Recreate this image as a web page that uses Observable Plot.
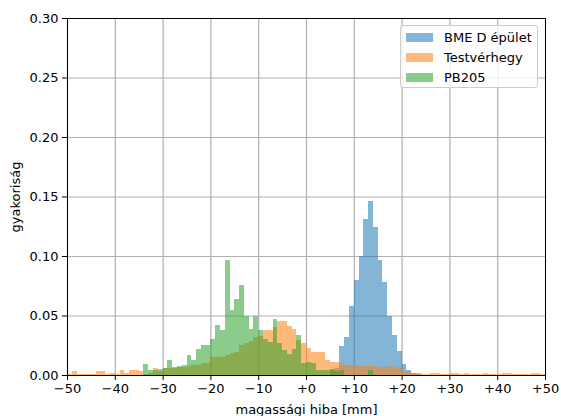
<!DOCTYPE html>
<html>
<head>
<meta charset="utf-8">
<script src="https://cdn.jsdelivr.net/npm/d3@7"></script>
<script src="https://cdn.jsdelivr.net/npm/@observablehq/plot@0.6"></script>
<style>
  body { margin: 0; background: #fff; }
  #wrap { position: relative; width: 561px; height: 416px; font-family: "DejaVu Sans", sans-serif; }
  .legend { position: absolute; left: 400px; top: 25px; width: 138px; height: 63px;
    background: rgba(255,255,255,0.8); border: 1px solid #cccccc; border-radius: 3px; box-sizing: border-box; }
  .row { position: absolute; left: 5px; height: 14px; display: flex; align-items: center; font-size: 13px; color: #000; white-space: nowrap; }
  .sw { width: 27px; height: 9px; margin-right: 11px; }
</style>
</head>
<body>
<div id="wrap"></div>
<script>
// Series names
const seriesNames = ["BME D épület", "Testvérhegy", "PB205"];
const seriesColors = ["#1f77b4", "#ff7f0e", "#2ca02c"];

// Histogram bins are 1 mm wide; each series lists values from its first bin start
const blueStart = 5;
const blueValues = [0.004, 0.006, 0.0246, 0.0317, 0.058, 0.080, 0.100, 0.131, 0.146, 0.124,
  0.097, 0.078, 0.050, 0.034, 0.020, 0.0095, 0.004, 0.0015, 0.001];

const orangeStart = -50;
const orangeValues = [
  0.001, 0.003, 0.001, 0.001, 0.001, 0.001, 0.003, 0.003, 0.001, 0.002,
  0.001, 0.004, 0.002, 0.004, 0.004, 0.003, 0.001, 0.002, 0.0056, 0.003,
  0.0056, 0.0056, 0.006, 0.0065, 0.007, 0.0075, 0.0084, 0.0084, 0.0098, 0.0098,
  0.0148, 0.0154, 0.0154, 0.0168, 0.0188, 0.0196, 0.025, 0.027, 0.0286, 0.0317,
  0.033, 0.038, 0.038, 0.040, 0.0457, 0.0457, 0.041, 0.039, 0.029, 0.027,
  0.023, 0.0196, 0.0196, 0.0196, 0.0126, 0.011, 0.011, 0.0098, 0.0085, 0.008,
  0.008, 0.0076, 0.0076, 0.0076, 0.0076, 0.007, 0.007, 0.0076, 0.007, 0.006,
  0.0036, 0.0036, 0.002, 0.002, 0.001, 0.001, 0.002, 0.002, 0.001, 0.001,
  0.002, 0.002, 0.001, 0.002, 0.001, 0.001, 0.001, 0.002, 0.001, 0.001,
  0.001, 0.002, 0.002, 0.001, 0.001, 0.001, 0.001, 0.002, 0.002, 0.001];

const greenStart = -34;
const greenValues = [
  0.009, 0.0042, 0.004, 0.0053, 0.0056, 0.013, 0.007, 0.0076, 0.0084, 0.0168,
  0.013, 0.0216, 0.025, 0.025, 0.030, 0.042, 0.038, 0.0966, 0.055, 0.0636,
  0.076, 0.050, 0.039, 0.050, 0.038, 0.030, 0.028, 0.047, 0.027, 0.021,
  0.018, 0.022, 0.034, 0.010, 0.011, 0.010, 0.004, 0.004, 0.004, 0.005,
  0.003, 0.0042, 0, 0, 0, 0, 0, 0.004];

const binWidth = 1;
const xTicks = [-50, -40, -30, -20, -10, 0, 10, 20, 30, 40, 50];
const yTicks = [0, 0.05, 0.10, 0.15, 0.20, 0.25, 0.30];

function toBins(start, values, name) {
  return values.map((v, i) => ({x1: start + i * binWidth, x2: start + (i + 1) * binWidth, y: v, series: name}));
}
const series = [
  toBins(blueStart, blueValues, seriesNames[0]),
  toBins(orangeStart, orangeValues, seriesNames[1]),
  toBins(greenStart, greenValues, seriesNames[2])
];
const alpha = 0.55;

const chart = Plot.plot({
  width: 561,
  height: 416,
  marginLeft: 67,
  marginRight: 16,
  marginTop: 18,
  marginBottom: 41,
  style: {fontFamily: "DejaVu Sans, sans-serif", fontSize: "13px", color: "#000", background: "#fff"},
  x: {domain: [-50, 50]},
  y: {domain: [0, 0.30]},
  marks: [
    Plot.gridX(xTicks, {stroke: "#b0b0b0", strokeOpacity: 1, strokeWidth: 1.2}),
    Plot.gridY(yTicks, {stroke: "#b0b0b0", strokeOpacity: 1, strokeWidth: 1.2}),
    ...series.map((s, i) => Plot.rectY(s, {x1: "x1", x2: "x2", y: "y", fill: seriesColors[i], fillOpacity: alpha,
      insetLeft: 0, insetRight: 0, shapeRendering: "crispEdges"})),
    Plot.axisX(xTicks, {tickSize: 5, tickPadding: 3, stroke: "#000",
      tickFormat: d => d < 0 ? "\u2212" + Math.abs(d) : "+" + d,
      label: "magassági hiba [mm]", labelAnchor: "center", labelArrow: "none", labelOffset: 38}),
    Plot.axisY(yTicks, {tickSize: 5, tickPadding: 4, stroke: "#000",
      tickFormat: d3.format(".2f"),
      label: "gyakoriság", labelAnchor: "center", labelArrow: "none", labelOffset: 57}),
    Plot.frame({stroke: "#000", strokeWidth: 1})
  ]
});

const wrap = document.getElementById("wrap");
wrap.appendChild(chart);

const legend = document.createElement("div");
legend.className = "legend";
seriesNames.forEach((name, i) => {
  const row = document.createElement("div");
  row.className = "row";
  row.style.top = (4 + i * 20) + "px";
  const sw = document.createElement("div");
  sw.className = "sw";
  sw.style.background = seriesColors[i];
  sw.style.opacity = alpha;
  const label = document.createElement("span");
  label.textContent = name;
  row.appendChild(sw);
  row.appendChild(label);
  legend.appendChild(row);
});
wrap.appendChild(legend);
</script>
</body>
</html>
